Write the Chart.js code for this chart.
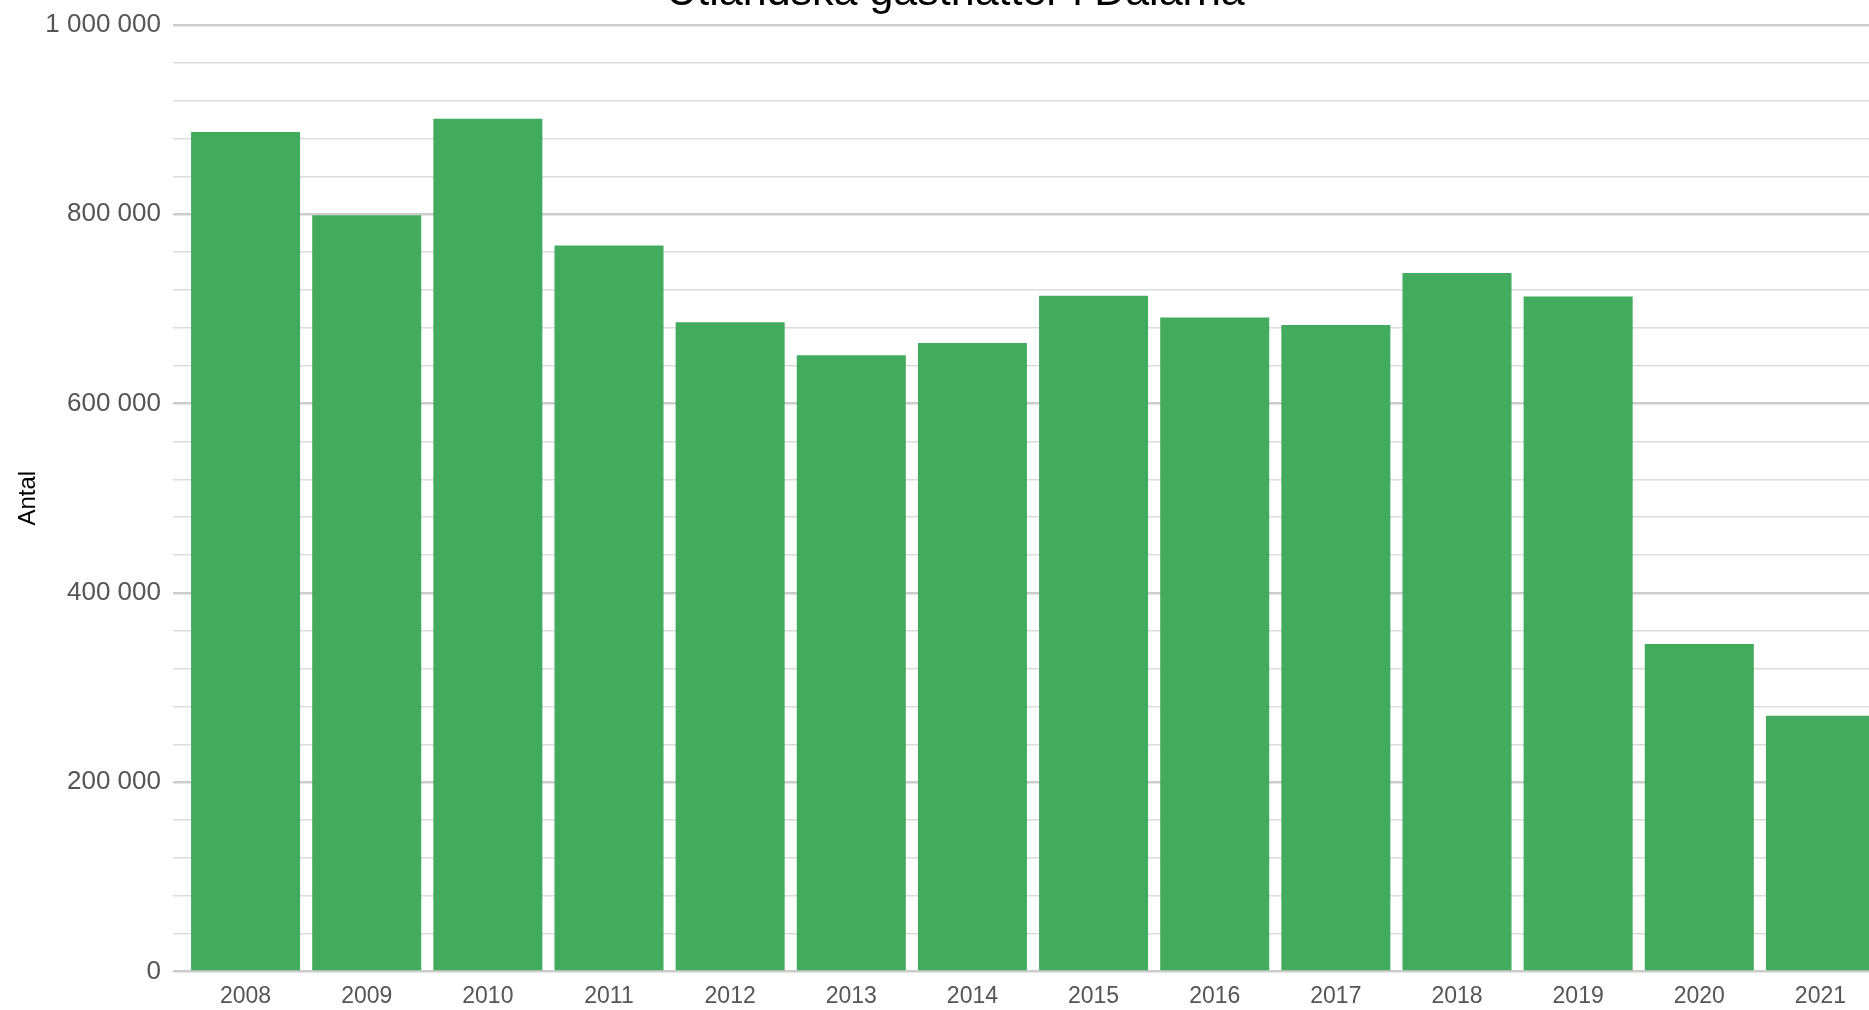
<!DOCTYPE html>
<html lang="sv">
<head>
<meta charset="utf-8">
<title>Utländska gästnätter i Dalarna</title>
<script src="https://cdn.jsdelivr.net/npm/chart.js@4/dist/chart.umd.min.js"></script>
<style>
  html, body { margin: 0; padding: 0; background: #fff; overflow: hidden; }
  #wrap { position: absolute; left: 0; top: -33px; width: 1881px; height: 1054px; }
</style>
</head>
<body>
<div id="wrap"><canvas id="chart"></canvas></div>
<script>
// data
const years = ['2008', '2009', '2010', '2011', '2012', '2013', '2014',
               '2015', '2016', '2017', '2018', '2019', '2020', '2021'];
const nights = [887000, 799000, 901000, 767000, 686000, 651000, 664000,
                714000, 691000, 683000, 738000, 713000, 346000, 270000];
const majorStep = 200000;   // labelled ticks
const minorStep = 40000;    // light grid lines in between
const yMax = 1000000;

const fmt = v => String(v).replace(/\B(?=(\d{3})+(?!\d))/g, ' ');
const isMajor = v => v % majorStep === 0;

const ctx = document.getElementById('chart').getContext('2d');

new Chart(ctx, {
    type: 'bar',
    data: {
        labels: years,
        datasets: [{
            label: 'Antal',
            data: nights,
            backgroundColor: '#42ab5d',
            borderWidth: 0,
            barPercentage: 0.9,
            categoryPercentage: 1.0
        }]
    },
    options: {
        responsive: true,
        maintainAspectRatio: false,
        animation: false,
        layout: { padding: { left: 30, right: 0, top: 0, bottom: 0 } },
        plugins: {
            legend: { display: false },
            tooltip: { enabled: false },
            title: {
                display: true,
                text: 'Utländska gästnätter i Dalarna',
                color: '#000',
                font: { family: '"Liberation Sans", Arial, sans-serif', size: 43, weight: 'normal' },
                padding: { top: 0, bottom: 6.4 }
            }
        },
        scales: {
            x: {
                grid: { display: false, drawTicks: false },
                border: { display: false },
                ticks: {
                    color: '#555',
                    padding: 11,
                    font: { family: '"Liberation Sans", Arial, sans-serif', size: 23 }
                }
            },
            y: {
                min: 0,
                max: yMax,
                border: { display: false },
                afterFit: scale => { scale.width = 155; },
                grid: {
                    drawTicks: true,
                    tickLength: 12,
                    color: c => isMajor(c.tick.value) ? '#cccccc' : '#dcdcdc',
                    lineWidth: c => isMajor(c.tick.value) ? 2.5 : 1.5
                },
                ticks: {
                    stepSize: minorStep,
                    maxTicksLimit: 40,
                    autoSkip: false,
                    padding: 12,
                    color: '#555',
                    font: { family: '"Liberation Sans", Arial, sans-serif', size: 26 },
                    callback: v => isMajor(v) ? fmt(v) : ''
                },
                title: {
                    display: true,
                    text: 'Antal',
                    color: '#000',
                    font: { family: '"Liberation Sans", Arial, sans-serif', size: 24 },
                    padding: { top: -16, bottom: 0 }
                }
            }
        }
    }
});
</script>
</body>
</html>
